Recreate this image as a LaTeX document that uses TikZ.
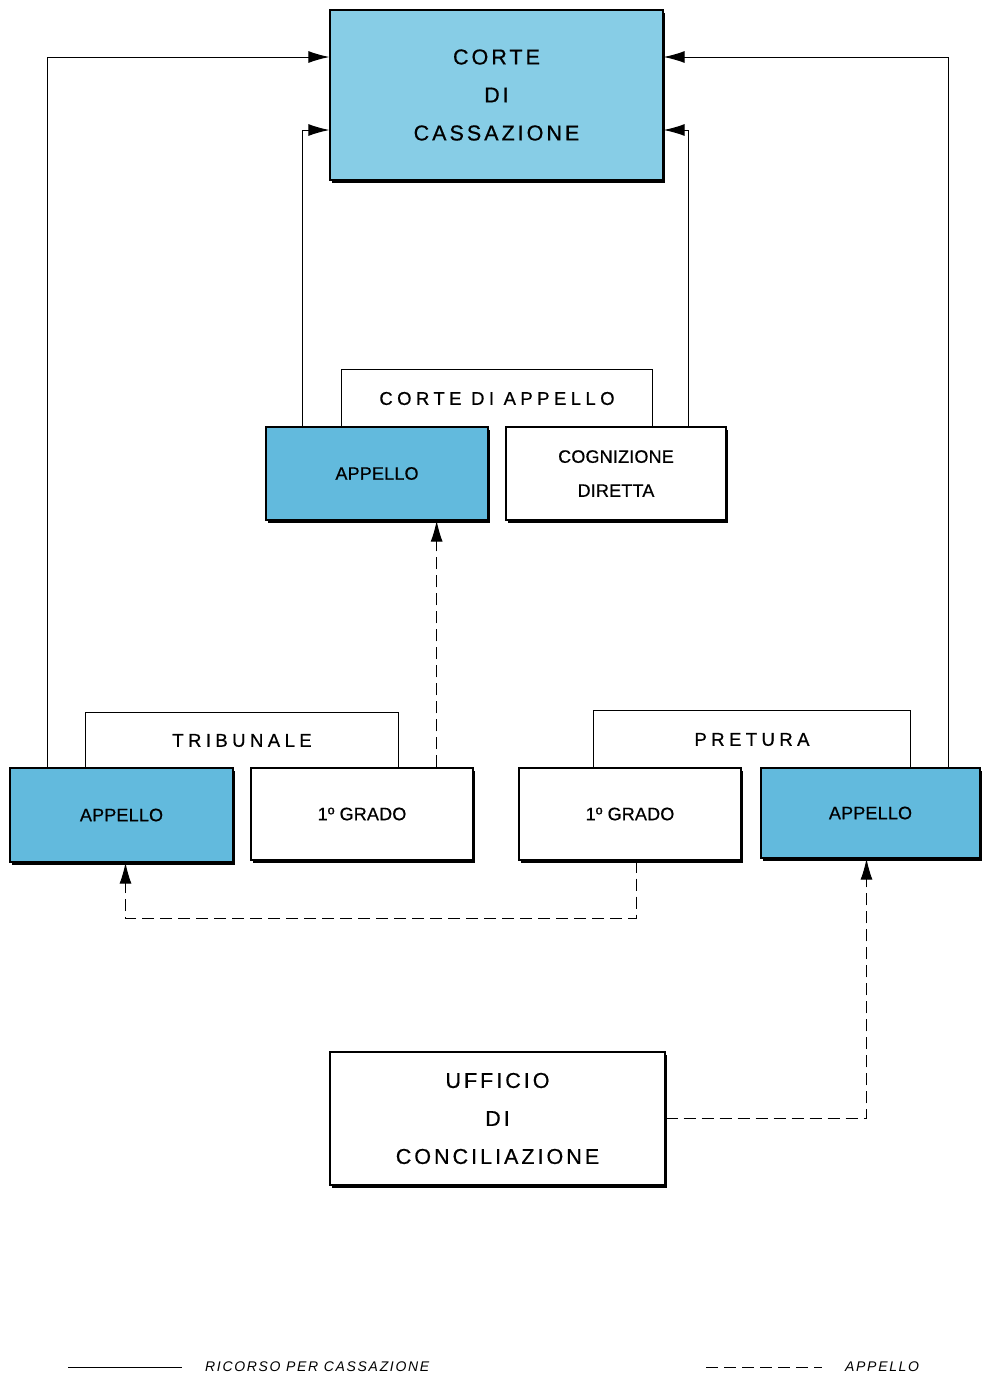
\documentclass[tikz,border=0pt]{standalone}
\usepackage{fontspec}
\setmainfont{Liberation Sans}
\newfontfamily\courtfont[LetterSpace=14, FakeBold=0.6]{Liberation Sans}
\newfontfamily\lab[LetterSpace=1, FakeBold=0.6]{Liberation Sans}
\newfontfamily\head[LetterSpace=24, FakeBold=0.6]{Liberation Sans}
\newfontfamily\leg[LetterSpace=12]{Liberation Sans}
\usetikzlibrary{arrows.meta,shadows}
\definecolor{cielo}{RGB}{98,186,221}
\definecolor{cielochiaro}{RGB}{135,205,230}

\begin{document}
\begin{tikzpicture}[x=1pt, y=-1pt,
		box/.style = {draw, line width=1.3pt, fill=white, inner sep=0pt, align=center,
			drop shadow={shadow xshift=2pt, shadow yshift=-2.5pt, fill=black, opacity=1},
			font=\lab\fontsize{18}{34}\selectfont},
		bigbox/.style = {box, font=\courtfont\fontsize{21.5}{38}\selectfont},
		blue/.style = {fill=cielo},
		head/.style = {inner sep=0pt, font=\head\fontsize{18.5}{20}\selectfont},
		ric/.style = {line width=1pt, -{Latex[length=21pt, width=12pt]}},
		app/.style = {line width=1pt, dash pattern=on 12pt off 6pt, -{Latex[length=21pt, width=12pt]}}]
		\useasboundingbox (0,0) rectangle (982,1377);
		% headers
		\node[head, minimum width=310pt, minimum height=57pt] (cdaH) at (497,398.5) {CORTE DI APPELLO};
		\node[head, minimum width=312pt, minimum height=55pt] (tribH) at (242,740.5) {TRIBUNALE};
		\node[head, minimum width=316pt, minimum height=57pt] (pretH) at (752,739.5) {PRETURA};
		\draw[line width=1pt] (cdaH.south west) |- (cdaH.north east) -- (cdaH.south east);
		\draw[line width=1pt] (tribH.south west) |- (tribH.north east) -- (tribH.south east);
		\draw[line width=1pt] (pretH.south west) |- (pretH.north east) -- (pretH.south east);
		% boxes
		\node[bigbox, fill=cielochiaro, minimum width=333pt, minimum height=170pt] (cass) at (496.5,95) {CORTE\\DI\\CASSAZIONE};
		\node[box, blue, minimum width=222pt, minimum height=93pt] (appC) at (377,473.5) {APPELLO};
		\node[box, minimum width=220pt, minimum height=93pt] (cogn) at (616,473.5) {COGNIZIONE\\DIRETTA};
		\node[box, blue, minimum width=223pt, minimum height=94pt] (appT) at (121.5,815) {APPELLO};
		\node[box, minimum width=222pt, minimum height=92pt] (gradoT) at (362,814) {1º GRADO};
		\node[box, minimum width=222pt, minimum height=92pt] (gradoP) at (630,814) {1º GRADO};
		\node[box, blue, minimum width=219pt, minimum height=90pt] (appP) at (870.5,813) {APPELLO};
		\node[bigbox, minimum width=335pt, minimum height=133pt] (uff) at (497.5,1118.5) {UFFICIO\\DI\\CONCILIAZIONE};
		% ricorso per cassazione
		\draw[ric] ([xshift=38pt]appT.north west) |- ([yshift=38pt]cass.west);
		\draw[ric] ([xshift=37pt]appC.north west) |- ([yshift=-35pt]cass.west);
		\draw[ric] ([xshift=-38pt]cogn.north east) |- ([yshift=-35pt]cass.east);
		\draw[ric] ([xshift=-32pt]appP.north east) |- ([yshift=38pt]cass.east);
		% appello
		\draw[app] ([xshift=-37pt]gradoT.north east) -- ([xshift=-37pt]gradoT.north east |- appC.south);
		\draw[app] ([xshift=6pt]gradoP.south) -- ++(0,58) -| ([xshift=4pt]appT.south);
		\draw[app] (uff.east) -| ([xshift=-4pt]appP.south);
		% legend
		\coordinate (ricA) at (68,1367);
		\coordinate (ricB) at (182,1367);
		\coordinate (appA) at (706,1367);
		\coordinate (appB) at (822,1367);
		\draw[line width=1pt] (ricA) -- (ricB);
		\draw[line width=1pt, dash pattern=on 12pt off 6pt] (appA) -- (appB);
		\node[anchor=west, inner sep=0pt, font=\leg\itshape\fontsize{14}{16}\selectfont] (ricL) at (205,1367) {RICORSO PER CASSAZIONE};
		\node[anchor=west, inner sep=0pt, font=\leg\itshape\fontsize{14}{16}\selectfont] (appL) at (845,1367) {APPELLO};
	\end{tikzpicture}
\end{document}
